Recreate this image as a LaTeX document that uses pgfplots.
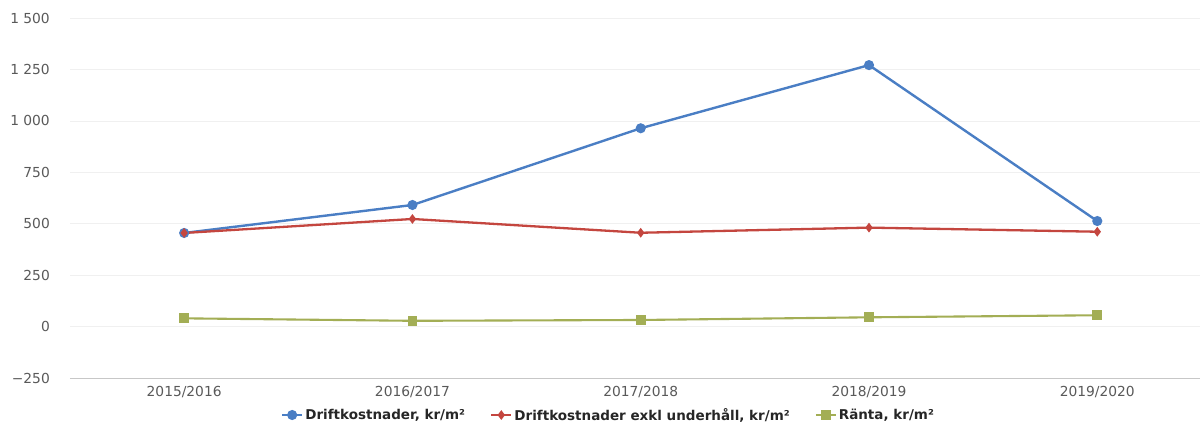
\documentclass[border=0pt]{standalone}
\usepackage{pgfplots}
\pgfplotsset{compat=1.18}
\usepackage{fontspec}
\setmainfont{DejaVu Sans}
\definecolor{cblue}{HTML}{4A7EC4}
\definecolor{cred}{HTML}{C4463F}
\definecolor{cgreen}{HTML}{A3AE55}
\begin{document}
\begin{tikzpicture}
\useasboundingbox (0,0) rectangle (1200pt,423pt);
\begin{axis}[
  at={(70pt,45pt)}, anchor=south west,
  scale only axis, width=1130pt, height=360pt,
  xmin=-0.5, xmax=4.45, ymin=-250, ymax=1500,
  xtick={0,1,2,3,4},
  xticklabels={2015/2016,2016/2017,2017/2018,2018/2019,2019/2020},
  ytick={-250,0,250,500,750,1000,1250,1500},
  yticklabels={−250,0,250,500,750,1 000,1 250,1 500},
  ymajorgrids, grid style={black!6, line width=0.6pt},
  axis x line*=bottom, axis y line*=left,
  y axis line style={draw=none},
  x axis line style={black!22, line width=0.8pt},
  major tick length=0pt,
  tick label style={font=\fontsize{13.8}{16}\selectfont, text=black!65, inner sep=0pt},
  xticklabel style={anchor=north, yshift=-8pt},
  yticklabel style={anchor=east, xshift=-20pt},
  legend style={at={(axis description cs:0.4765,-0.1028)}, anchor=center,
    draw=none, fill=none, legend columns=3,
    font=\fontsize{13.5}{16}\selectfont\bfseries, text=black!85,
    /tikz/every even column/.append style={column sep=23pt},
    inner sep=0pt, cells={anchor=west}},
  legend image code/.code={\draw[mark repeat=2,mark phase=2] plot coordinates {(0pt,0pt)(10pt,0pt)(20pt,0pt)};},
]
\addplot[cblue, line width=2.4pt, mark=*, mark size=3.8pt] coordinates {
  (0,455) (1,591) (2,964) (3,1271) (4,513)};
\addlegendentry{Driftkostnader, kr/m²}
\addplot[cred, line width=2.3pt, mark=diamond*, mark size=3pt] coordinates {
  (0,455) (1,523) (2,456) (3,481) (4,461)};
\addlegendentry{Driftkostnader exkl underhåll, kr/m²}
\addplot[cgreen, line width=2.1pt, mark=square*, mark size=3.8pt] coordinates {
  (0,40) (1,28) (2,32) (3,45) (4,55)};
\addlegendentry{Ränta, kr/m²}
\end{axis}
\end{tikzpicture}
\end{document}
